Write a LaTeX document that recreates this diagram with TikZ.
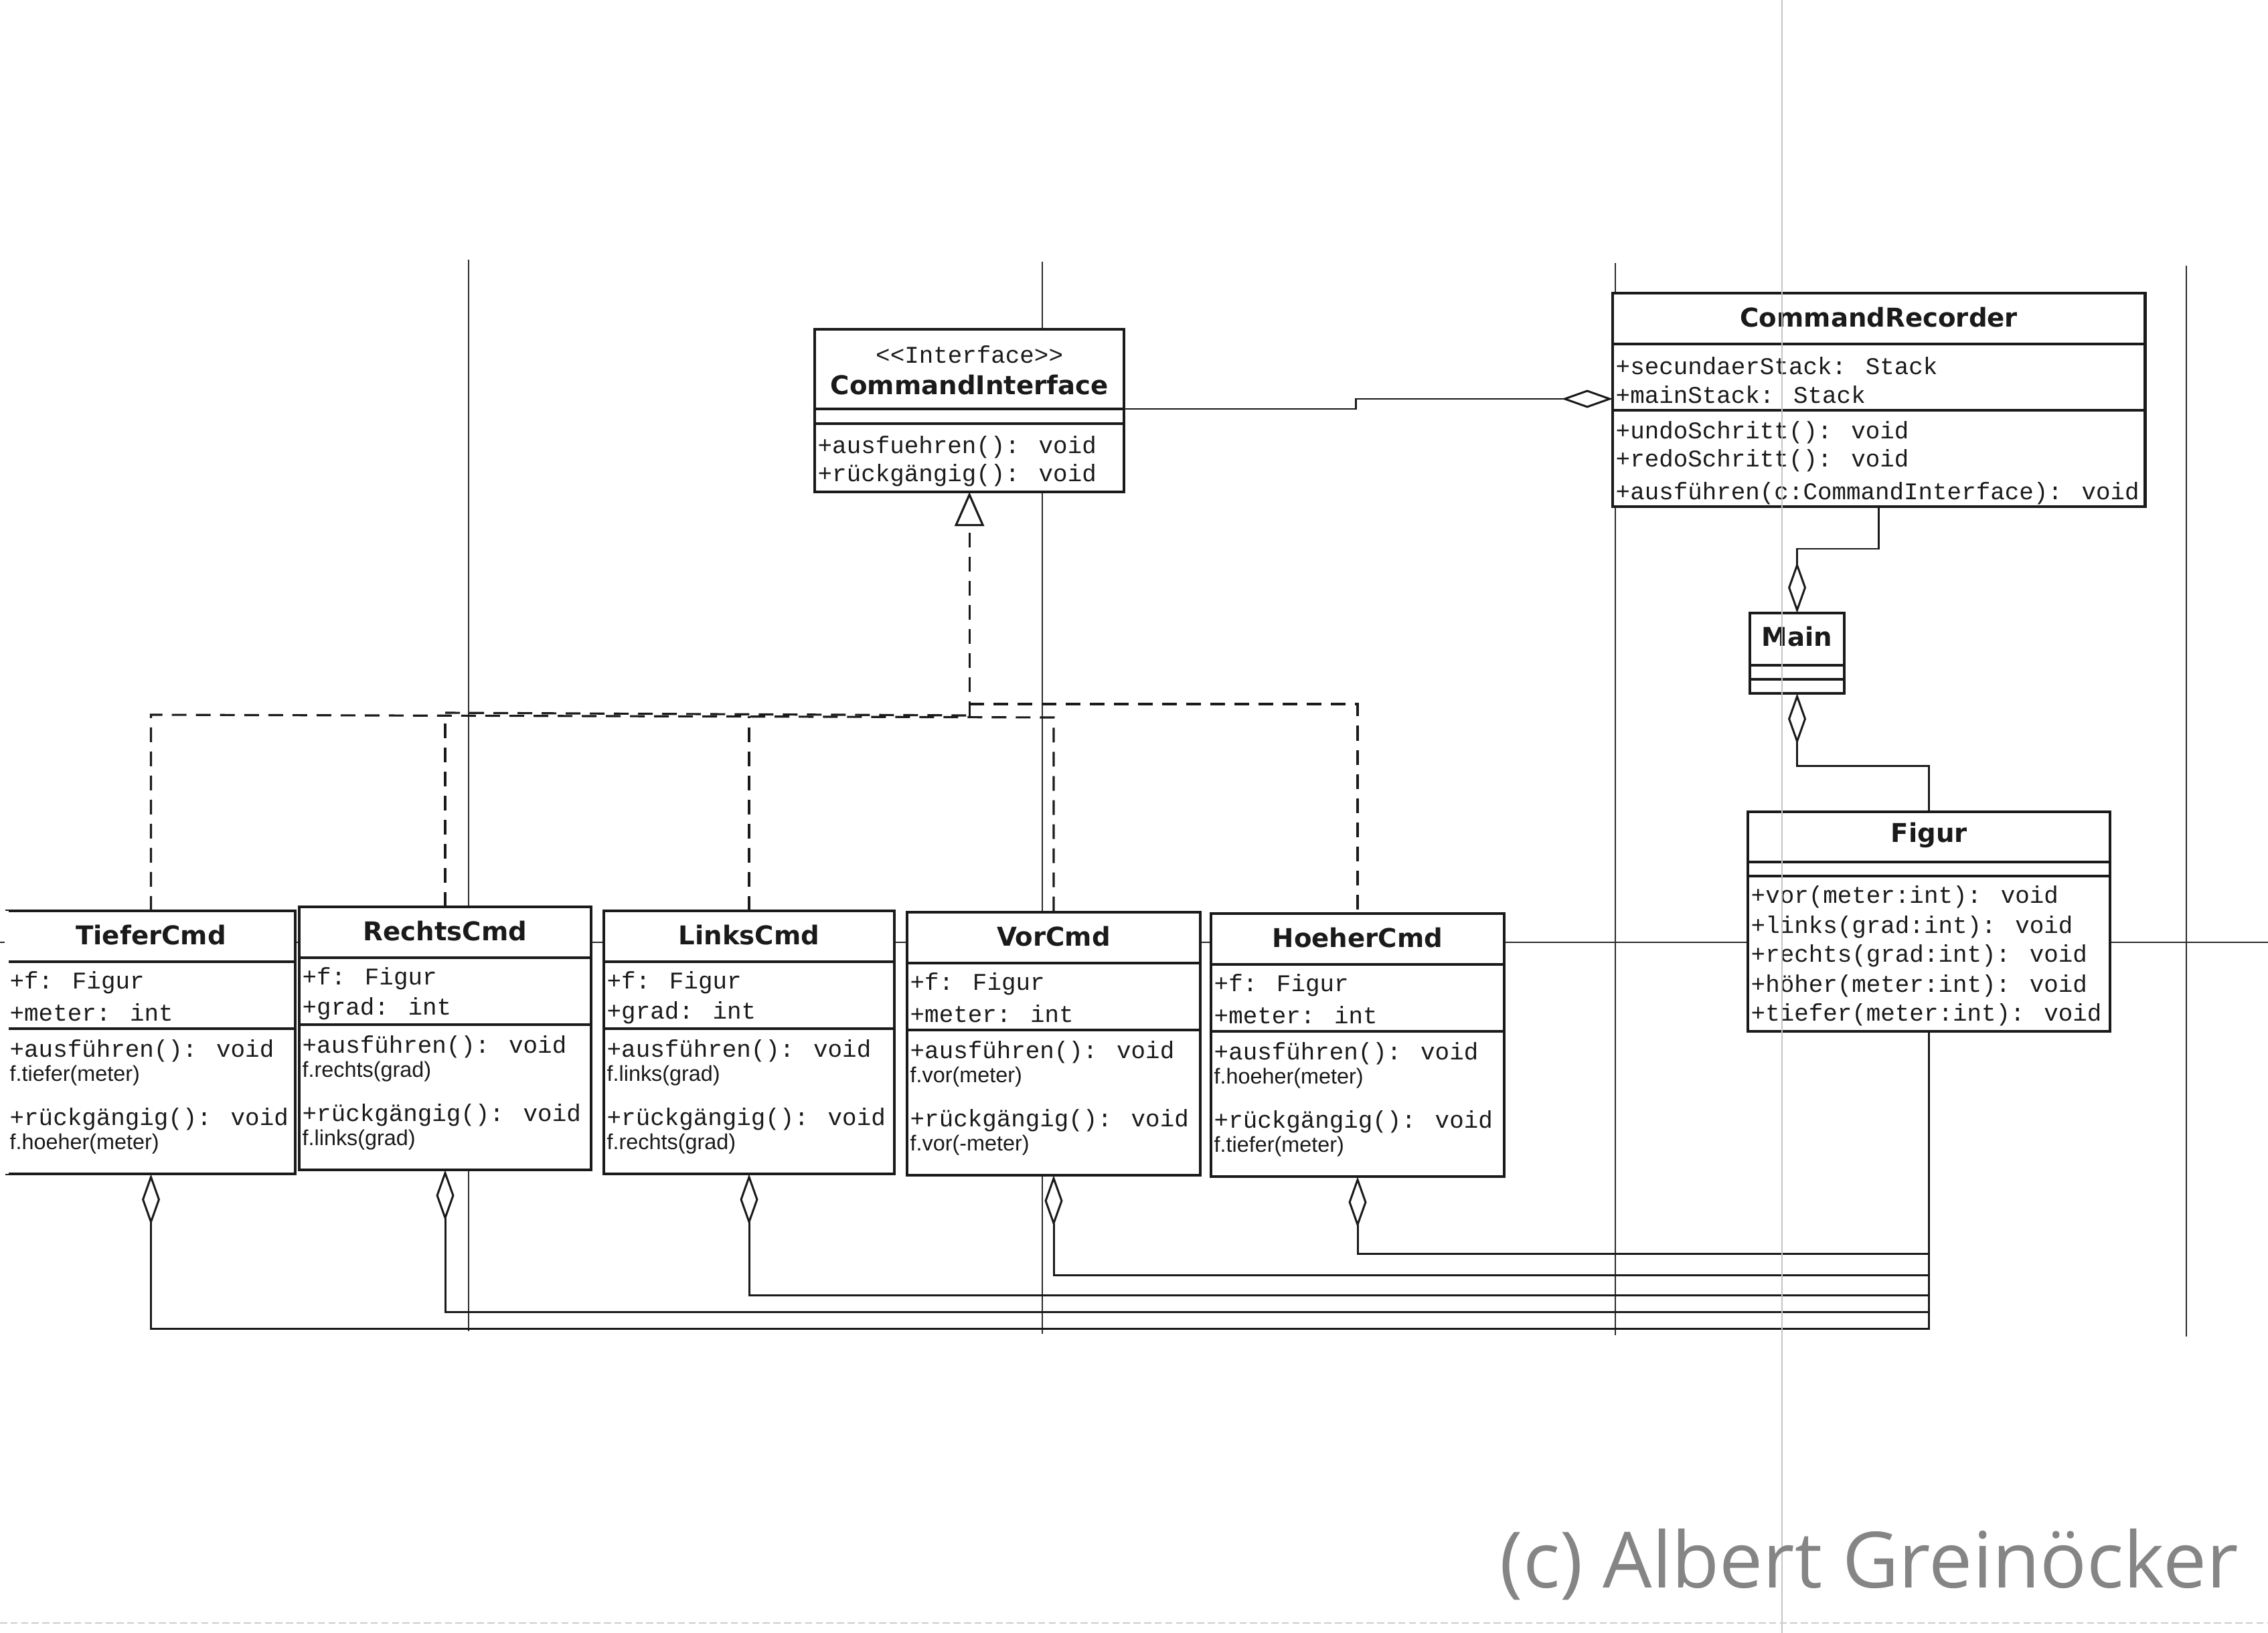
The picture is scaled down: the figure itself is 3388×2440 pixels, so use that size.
\documentclass[tikz,border=0pt]{standalone}
\usepackage{fontspec}
\usetikzlibrary{arrows.meta}
\newfontfamily\ttlfont{DejaVu Sans}
\newfontfamily\monofont{Liberation Mono}
\newfontfamily\callfont{Liberation Sans}
\newfontfamily\copyfont{Open Sans}
\definecolor{ink}{HTML}{1A1A1A}
\definecolor{thinc}{HTML}{2A2A2A}
\definecolor{foldc}{HTML}{C4C4C4}
\definecolor{copyc}{HTML}{858585}
\tikzset{
  clsbox/.style={draw=ink, line width=1.2pt, fill=white, inner sep=0pt, outer sep=0pt},
  sepline/.style={draw=ink, line width=1.1pt},
  ttl/.style={inner sep=0pt, font=\ttlfont\bfseries\fontsize{11}{13}\selectfont, text=ink},
  mono/.style={inner sep=0pt, anchor=west, font=\monofont\fontsize{10.2}{12}\selectfont, text=ink},
  call/.style={inner sep=0pt, anchor=west, font=\callfont\fontsize{9.2}{11}\selectfont, text=ink},
  divider/.style={draw=thinc, line width=0.55pt},
  conn/.style={draw=ink, line width=0.85pt},
  agg/.style={conn, -{Diamond[open, length=0.76cm, width=0.27cm, line width=0.85pt]}},
  realize/.style={draw=ink, line width=0.9pt, dash pattern=on 0.22cm off 0.14cm},
}
\def\txoff{0.04cm}
\newcommand\umlcmdbox[8]{%
  \node[clsbox, anchor=north west, minimum width=#4*0.01cm, minimum height=3.93cm] (#1) at (#2,#3) {};
  \draw[sepline] ([yshift=-0.76cm]#1.north west) -- ([yshift=-0.76cm]#1.north east);
  \draw[sepline] ([yshift=-1.76cm]#1.north west) -- ([yshift=-1.76cm]#1.north east);
  \node[ttl] (#1-title) at ([yshift=-0.36cm]#1.north) {#5};
  \node[mono] (#1-a1) at ([xshift=\txoff, yshift=-1.07cm]#1.north west) {+f: Figur};
  \node[mono] (#1-a2) at ([xshift=\txoff, yshift=-1.52cm]#1.north west) {#6};
  \node[mono] (#1-m1) at ([xshift=\txoff, yshift=-2.09cm]#1.north west) {+ausführen(): void};
  \node[call] (#1-c1) at ([xshift=\txoff, yshift=-2.46cm]#1.north west) {#7};
  \node[mono] (#1-m2) at ([xshift=\txoff, yshift=-3.11cm]#1.north west) {+rückgängig(): void};
  \node[call] (#1-c2) at ([xshift=\txoff, yshift=-3.48cm]#1.north west) {#8};
}
\begin{document}
\begin{tikzpicture}[x=0.01cm, y=-0.01cm]
\useasboundingbox (0,0) rectangle (3388,2440);
\fill[white] (0,0) rectangle (3388,2440);

% page tile borders
\draw[divider] (700,388) -- (700,1989);
\draw[divider] (1557,391) -- (1557,1993);
\draw[divider] (2413,393) -- (2413,1995);
\draw[divider] (3266,397) -- (3266,1997);
\draw[divider] (0,1408) -- (3388,1408);

% classes
\node[clsbox, anchor=north west, minimum width=4.62cm, minimum height=2.43cm] (ci) at (1217,492) {};
\draw[sepline] ([yshift=-1.19cm]ci.north west) -- ([yshift=-1.19cm]ci.north east);
\draw[sepline] ([yshift=-1.41cm]ci.north west) -- ([yshift=-1.41cm]ci.north east);
\node[mono, anchor=center] (ci-st) at ([yshift=-0.38cm]ci.north) {<\kern0pt<Interface>\kern0pt>};
\node[ttl] (ci-title) at ([yshift=-0.83cm]ci.north) {CommandInterface};
\node[mono] (ci-m1) at ([xshift=0.04cm,yshift=-1.76cm]ci.north west) {+ausfuehren(): void};
\node[mono] (ci-m2) at ([xshift=0.04cm,yshift=-2.18cm]ci.north west) {+rückgängig(): void};

\node[clsbox, anchor=north west, minimum width=7.95cm, minimum height=3.19cm] (cr) at (2409,438) {};
\draw[sepline] ([yshift=-0.76cm]cr.north west) -- ([yshift=-0.76cm]cr.north east);
\draw[sepline] ([yshift=-1.75cm]cr.north west) -- ([yshift=-1.75cm]cr.north east);
\node[ttl] (cr-title) at ([yshift=-0.36cm]cr.north) {CommandRecorder};
\node[mono] (cr-a1) at ([xshift=0.04cm,yshift=-1.09cm]cr.north west) {+secundaerStack: Stack};
\node[mono] (cr-a2) at ([xshift=0.04cm,yshift=-1.52cm]cr.north west) {+mainStack: Stack};
\node[mono] (cr-m1) at ([xshift=0.04cm,yshift=-2.08cm]cr.north west) {+undoSchritt(): void};
\node[mono] (cr-m2) at ([xshift=0.04cm,yshift=-2.50cm]cr.north west) {+redoSchritt(): void};
\node[mono] (cr-m3) at ([xshift=0.04cm,yshift=-2.99cm]cr.north west) {+ausführen(c:CommandInterface): void};

\node[clsbox, anchor=north west, minimum width=1.41cm, minimum height=1.20cm] (main) at (2614,916) {};
\draw[sepline] ([yshift=-0.78cm]main.north west) -- ([yshift=-0.78cm]main.north east);
\draw[sepline] ([yshift=-0.99cm]main.north west) -- ([yshift=-0.99cm]main.north east);
\node[ttl] (main-title) at ([yshift=-0.35cm]main.north) {Main};

\node[clsbox, anchor=north west, minimum width=5.41cm, minimum height=3.28cm] (figur) at (2611,1213) {};
\draw[sepline] ([yshift=-0.75cm]figur.north west) -- ([yshift=-0.75cm]figur.north east);
\draw[sepline] ([yshift=-0.96cm]figur.north west) -- ([yshift=-0.96cm]figur.north east);
\node[ttl] (figur-title) at ([yshift=-0.35cm]figur.north) {Figur};
\node[mono] (figur-m1) at ([xshift=0.04cm,yshift=-1.27cm]figur.north west) {+vor(meter:int): void};
\node[mono] (figur-m2) at ([xshift=0.04cm,yshift=-1.72cm]figur.north west) {+links(grad:int): void};
\node[mono] (figur-m3) at ([xshift=0.04cm,yshift=-2.15cm]figur.north west) {+rechts(grad:int): void};
\node[mono] (figur-m4) at ([xshift=0.04cm,yshift=-2.60cm]figur.north west) {+höher(meter:int): void};
\node[mono] (figur-m5) at ([xshift=0.04cm,yshift=-3.03cm]figur.north west) {+tiefer(meter:int): void};

\umlcmdbox{tiefer}{10}{1361}{431}{TieferCmd}{+meter: int}{f.tiefer(meter)}{f.hoeher(meter)}
\draw[white, line width=1.7pt] (tiefer.north west) -- (tiefer.south west);
\umlcmdbox{rechts}{447}{1355}{436}{RechtsCmd}{+grad: int}{f.rechts(grad)}{f.links(grad)}
\umlcmdbox{links}{902}{1361}{434}{LinksCmd}{+grad: int}{f.links(grad)}{f.rechts(grad)}
\umlcmdbox{vor}{1355}{1363}{438}{VorCmd}{+meter: int}{f.vor(meter)}{f.vor(-meter)}
\umlcmdbox{hoeher}{1809}{1365}{438}{HoeherCmd}{+meter: int}{f.hoeher(meter)}{f.tiefer(meter)}

% realization (dashed)
\draw[realize] (tiefer.north) -- (tiefer.north |- 0,1068) -- (vor.north |- 0,1072) -- (vor.north);
\draw[realize] (rechts.north |- 0,1065) -- (ci.south |- 0,1069);
\draw[realize] (rechts.north) -- (rechts.north |- 0,1069);
\draw[realize] (links.north) -- (links.north |- 0,1070);
\draw[realize] (ci.south |- 0,1052) -- (hoeher.north |- 0,1052) -- (hoeher.north);
\draw[realize, -{Triangle[open, length=0.51cm, width=0.44cm, line width=0.9pt]}] (ci.south |- 0,1070) -- (ci.south);

% aggregations
\draw[agg] (ci.east |- 0,611) -- (2025,611) -- (2025,596) -- (cr.west |- 0,596);
\draw[agg] (cr.south) -- (cr.south |- 0,820) -- (main.north |- 0,820) -- (main.north);
\draw[agg] (figur.north) -- (figur.north |- 0,1144) -- (main.south |- 0,1144) -- (main.south);
\draw[agg] (figur.south) -- (figur.south |- 0,1873) -- (hoeher.south |- 0,1873) -- (hoeher.south);
\draw[agg] (figur.south) -- (figur.south |- 0,1905) -- (vor.south |- 0,1905) -- (vor.south);
\draw[agg] (figur.south) -- (figur.south |- 0,1935) -- (links.south |- 0,1935) -- (links.south);
\draw[agg] (figur.south) -- (figur.south |- 0,1960) -- (rechts.south |- 0,1960) -- (rechts.south);
\draw[agg] (figur.south) -- (figur.south |- 0,1985) -- (tiefer.south |- 0,1985) -- (tiefer.south);

% scan fold and bottom edge
\draw[foldc, line width=0.45pt] (2662,0) -- (2662,2440);
\draw[gray!40, line width=0.6pt, dash pattern=on 3pt off 1.5pt] (0,2425) -- (3388,2425);

\node[anchor=base west, inner sep=0pt, text=copyc, font=\copyfont\fontsize{33}{36}\selectfont] (copy) at (2240,2372) {(c) Albert Greinöcker};
\end{tikzpicture}
\end{document}
